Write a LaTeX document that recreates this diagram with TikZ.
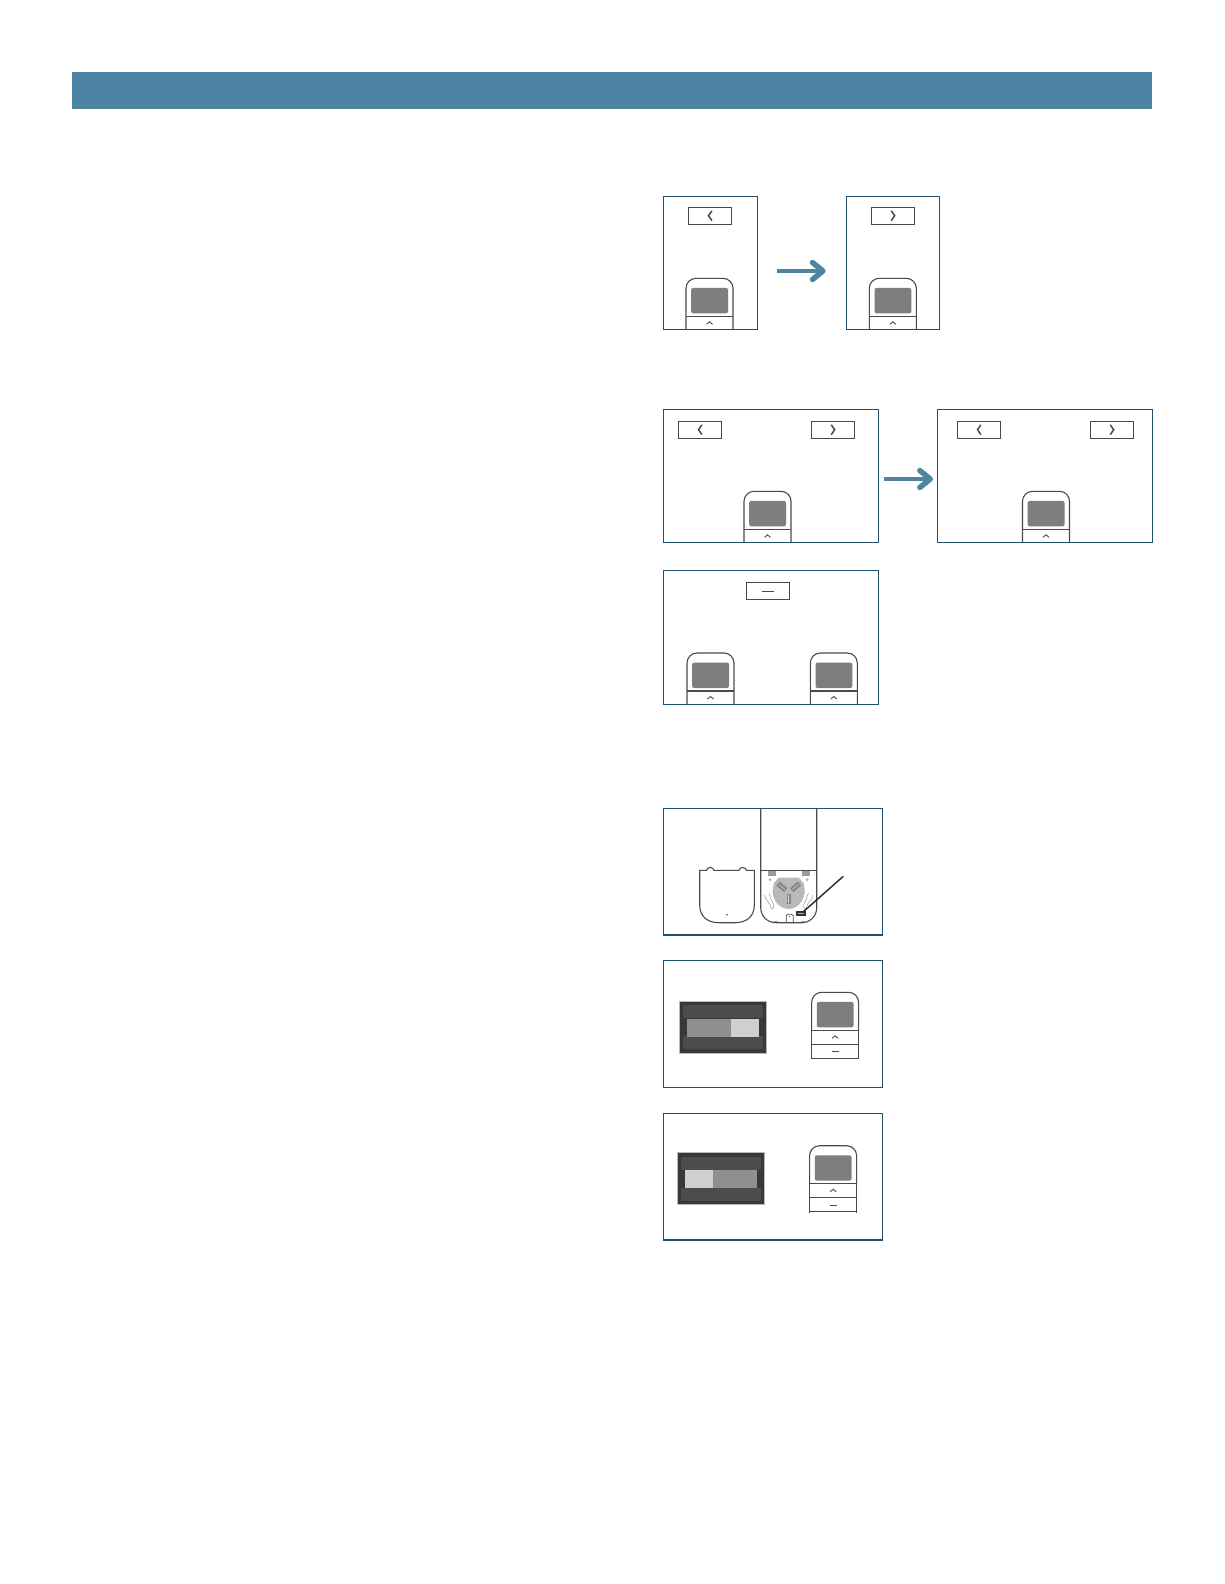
\documentclass[tikz,border=0pt]{standalone}
\definecolor{bannerblue}{HTML}{4F83A3}
\definecolor{panelblue}{HTML}{1F5070}
\definecolor{lineg}{HTML}{4A4A4A}
\definecolor{screeng}{HTML}{7E7E7E}
\tikzset{
  x=1pt,y=-1pt,
  panelbox/.style={draw=panelblue,line width=1.2pt},
  btn/.style={draw=lineg,line width=1.1pt},
  outl/.style={draw=lineg,line width=1.1pt},
  glyph/.style={draw=lineg,line width=1.5pt,line cap=round,line join=miter},
  glyphthin/.style={draw=lineg,line width=.9pt},
  flow/.style={draw=bannerblue,line width=4.6pt},
  flowhead/.style={draw=bannerblue,line width=5.4pt,line cap=round,line join=round},
  soft/.style={draw=gray!70,line width=.6pt},
}
% x, y of top-left, h total
\newcommand\remoteshape[3]{%
  \begin{scope}[shift={(#1,#2)}]
    \draw[outl,rounded corners=10pt] (0,#3) -- (0,0) -- (47,0) -- (47,#3);
    \fill[screeng,rounded corners=2pt] (5.2,9.6) rectangle (42,35);
    \draw[outl] (0,38) -- (47,38);
    \draw[glyphthin] (20.5,46) -- (23.5,43.5) -- (26.5,46);
  \end{scope}}
\newcommand\lbtn[2]{%
  \draw[btn] (#1,#2) rectangle ++(43.4,17.3);
  \draw[glyph] ([shift={(23.4,3.8)}]#1,#2) -- ++(-3.2,4.6) -- ++(3.2,4.6);}
\newcommand\rbtn[2]{%
  \draw[btn] (#1,#2) rectangle ++(43.4,17.3);
  \draw[glyph] ([shift={(20.2,3.8)}]#1,#2) -- ++(3.2,4.6) -- ++(-3.2,4.6);}
\newcommand\swbox[7]{% x y splitx leftcol rightcol
  \begin{scope}[shift={(#1,#2)}]
    \fill[black!78] (0,0) rectangle (86.6,51.7);
    \draw[gray!55,line width=.6pt] (0,0) rectangle (86.6,51.7);
    \fill[black!70] (3,4) rectangle (83.6,17);
    \fill[black!70] (3,35) rectangle (83.6,48);
    \fill[#4] (#6,17.7) rectangle (#3,#7);
    \fill[#5] (#3,17.7) rectangle (79.3,#7);
  \end{scope}}
\begin{document}
\begin{tikzpicture}
\useasboundingbox (0,0) rectangle (1224,1584);
\fill[white] (0,0) rectangle (1224,1584);
% banner
\fill[bannerblue] (72,72) rectangle (1152,109);

% first row
\remoteshape{686}{278.3}{51}
\remoteshape{869.3}{278.3}{51}
\lbtn{688.3}{207.3}
\rbtn{871.3}{207.3}
\draw[panelbox] (663.3,196.3) rectangle (757.7,329.3);
\draw[panelbox] (846.3,196.3) rectangle (939.7,329.3);
\coordinate (arrowAfrom) at (777,271);
\coordinate (arrowAto) at (823,271);
\draw[flow] (arrowAfrom) -- (arrowAto);
\draw[flowhead] ([shift={(-10.5,-8.5)}]arrowAto) -- (arrowAto) -- ([shift={(-10.5,8.5)}]arrowAto);

% second row
\remoteshape{744}{491.3}{51}
\remoteshape{1022.5}{491.3}{51}
\lbtn{678.3}{421.3}
\rbtn{811.3}{421.3}
\lbtn{957.3}{421.3}
\rbtn{1090.3}{421.3}
\draw[panelbox] (663.3,409.3) rectangle (878.7,542.3);
\draw[panelbox] (937.3,409.3) rectangle (1152.7,542.3);
\coordinate (arrowBfrom) at (884.3,479);
\coordinate (arrowBto) at (930.3,479);
\draw[flow] (arrowBfrom) -- (arrowBto);
\draw[flowhead] ([shift={(-10.5,-8.5)}]arrowBto) -- (arrowBto) -- ([shift={(-10.5,8.5)}]arrowBto);

% third panel
\remoteshape{687}{653}{51.3}
\remoteshape{810.3}{653}{51.3}
\draw[btn] (746.3,582.3) rectangle (789.7,599.7);
\draw[glyphthin] (762,591) -- (773.5,591);
\draw[panelbox] (663.3,570.3) rectangle (878.7,704.3);

% battery panel
\draw[outl,rounded corners=15pt] (760.7,808.3) -- (760.7,922.7) -- (816.7,922.7) -- (816.7,808.3);
\draw[outl] (760.7,870.3) -- (816.7,870.3);
% back cover
\draw[outl] (699.7,870.3) -- (706.5,870.3) .. controls (707.5,866.5) and (713,866.5) .. (714,870.3)
  -- (739,870.3) .. controls (740,866.5) and (745.5,866.5) .. (746.5,870.3) -- (754.3,870.3)
  -- (754.3,905) .. controls (754.3,917) and (746,922.7) .. (735,922.7) -- (719,922.7)
  .. controls (708,922.7) and (699.7,917) .. (699.7,905) -- cycle;
\fill[lineg] (727,914.7) circle (.9);
% mount
\fill[gray!60!black!55] (768,870.7) rectangle (775.7,875.5);
\fill[gray!60!black!55] (802,870.7) rectangle (809.7,875.5);
\fill[gray!70] (770,878.2) -- (771.4,879.7) -- (770,881.2) -- (768.6,879.7) -- cycle;
\fill[gray!70] (807.3,878.2) -- (808.7,879.7) -- (807.3,881.2) -- (805.9,879.7) -- cycle;
\fill[gray!55] (779,877.5) -- (798.5,877.5) -- (803.5,883)
  .. controls (808,897) and (799,909) .. (788.7,909)
  .. controls (778,909) and (769,897) .. (774,883) -- cycle;
\begin{scope}[shift={(781.8,886.8)},rotate=-40]
  \fill[gray!40!black!60] (-5,-2.6) rectangle (5,2.6);
  \draw[gray!30,line width=.5pt] (-4,0) -- (4,0);
\end{scope}
\begin{scope}[shift={(795.6,886.8)},rotate=40]
  \fill[gray!40!black!60] (-5,-2.6) rectangle (5,2.6);
  \draw[gray!30,line width=.5pt] (-4,0) -- (4,0);
\end{scope}
\fill[gray!40!black!60] (786.5,893.5) rectangle (791,903.5);
\draw[gray!30,line width=.5pt] (788.7,894.5) -- (788.7,902.5);
\draw[soft] (764.5,895) .. controls (766,902) and (769,900) .. (771,908) .. controls (773,911) and (775,906) .. (773,903) .. controls (770,899) and (771,896) .. (769,893);
\draw[soft] (812.9,895) .. controls (811.4,902) and (808.4,900) .. (806.4,908) .. controls (804.4,911) and (802.4,906) .. (804.4,903) .. controls (807.4,899) and (806.4,896) .. (808.4,893);
\draw[outl,line width=.7pt] (786.3,922.7) -- (786.3,915.5) -- (788,914.3) -- (791.6,914.3) -- (793.3,915.5) -- (793.3,922.7);
\fill[lineg] (789.8,916.5) circle (.6);
\draw[soft] (773,921.7) -- (778,921.7);
\draw[soft] (801,921.7) -- (806,921.7);
\fill[black!80] (796.3,910.7) rectangle (805.7,916);
\draw[gray!60,line width=.4pt] (798,913.3) -- (804,913.3);
\coordinate (leaderFrom) at (843.3,876.3);
\coordinate (leaderTo) at (803.3,911.7);
\draw[black!85,line width=1.4pt] (leaderFrom) -- (leaderTo);
\draw[panelbox] (663.3,808.3) rectangle (882.7,935);

% switch panel one
\swbox{679.7}{1001.3}{51.3}{gray!88}{gray!38}{7.3}{35.7}
\remoteshape{811.6}{992.3}{37}
\draw[outl] (811.6,1029.3) -- (811.6,1058.3) -- (858.6,1058.3) -- (858.6,1029.3);
\draw[outl] (811.6,1044.3) -- (858.6,1044.3);
\draw[glyphthin] (832,1051) -- (839,1051);
\draw[panelbox] (663.3,960.3) rectangle (882.7,1087.3);

% switch panel two
\swbox{677.7}{1152.7}{35.3}{gray!38}{gray!88}{7.3}{35.6}
\remoteshape{809.6}{1145.7}{37.6}
\draw[outl] (809.6,1183.3) -- (809.6,1212.5);
\draw[outl] (856.6,1183.3) -- (856.6,1212.5);
\draw[outl] (809.6,1197.3) -- (856.6,1197.3);
\draw[outl] (809.6,1211.5) -- (856.6,1211.5);
\draw[glyphthin] (829.5,1205.3) -- (836.5,1205.3);
\draw[panelbox] (663.3,1113.3) rectangle (882.7,1240);
\end{tikzpicture}
\end{document}
